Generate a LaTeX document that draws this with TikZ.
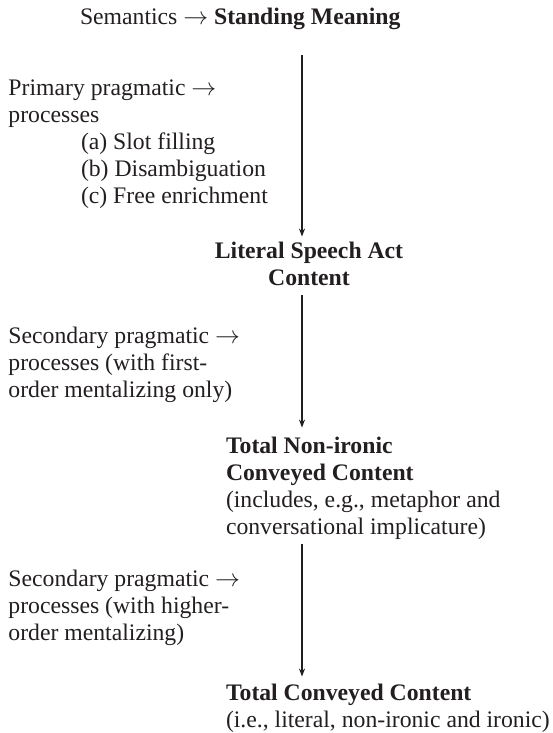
\documentclass[tikz,border=0pt]{standalone}
\usepackage{fontspec}
\setmainfont{Liberation Serif}
\usetikzlibrary{arrows.meta}
\definecolor{ink}{RGB}{35,31,32}
\newcommand{\rarr}{$\rightarrow$}
\begin{document}
\begin{tikzpicture}[x=1pt,y=-1pt,
  every node/.style={inner sep=0pt, outer sep=0pt, text=ink,
    font=\fontsize{23.7}{27}\selectfont},
  lbl/.style={anchor=base west, align=left},
  ctr/.style={anchor=base, align=center},
  flow/.style={draw=ink, line width=1.2pt, -{Stealth[length=8pt,width=6pt]}}]
\useasboundingbox (0,0) rectangle (552,733);
\coordinate (ax) at (302,0);
% anchors: base = baseline of the last line
\node[lbl] (sem) at (80,25) {Semantics \rarr\ \textbf{Standing Meaning}};
\node[lbl] (prim) at (8.5,122) {Primary pragmatic \rarr\\processes};
\node[lbl] (list) at (81,203) {(a) Slot filling\\(b) Disambiguation\\(c) Free enrichment};
\node[ctr] (lsa) at (309,285) {\textbf{Literal Speech Act}\\\textbf{Content}};
\node[lbl] (sec1) at (8.5,397) {Secondary pragmatic \rarr\\processes (with first-\\order mentalizing only)};
\node[lbl] (tnc) at (226,534) {\textbf{Total Non-ironic}\\\textbf{Conveyed Content}\\(includes, e.g., metaphor and\\conversational implicature)};
\node[lbl] (sec2) at (8.5,640) {Secondary pragmatic \rarr\\processes (with higher-\\order mentalizing)};
\node[lbl] (tc) at (226,727) {\textbf{Total Conveyed Content}\\(i.e., literal, non-ironic and ironic)};
\draw[flow, shorten <=25pt, shorten >=5pt] (ax |- sem.south) -- (ax |- lsa.north);
\draw[flow, shorten <=10pt, shorten >=9pt] (ax |- lsa.south) -- (ax |- tnc.north);
\draw[flow, shorten <=5pt, shorten >=7pt] (ax |- tnc.south) -- (ax |- tc.north);
\end{tikzpicture}
\end{document}
